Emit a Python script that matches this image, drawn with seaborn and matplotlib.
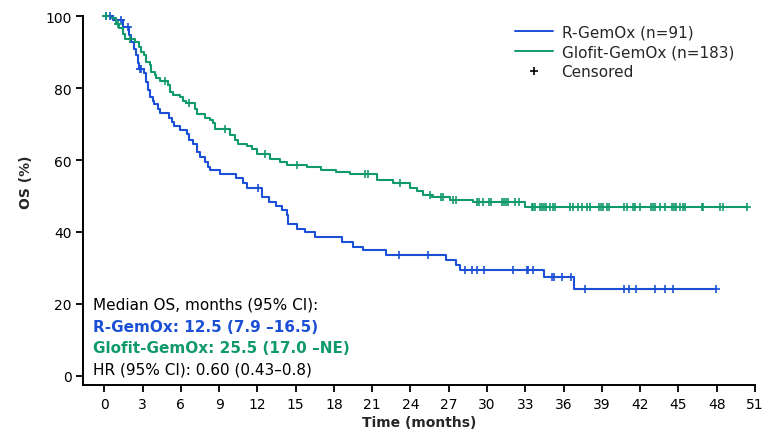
import numpy as np
import pandas as pd
import matplotlib
matplotlib.use("Agg")
import matplotlib.pyplot as plt
import seaborn as sns
from matplotlib.lines import Line2D

# ---------------- data ----------------
rgemox_time = [0, 0.7, 1.5, 1.95, 2.1, 2.35, 2.5, 2.62, 2.75, 3.15, 3.3, 3.42, 3.62, 3.85, 3.92,
               4.2, 4.35, 5.1, 5.35, 5.5, 5.9, 6.5, 6.65, 6.95, 7.3, 7.5, 7.9, 8.15, 8.28, 9.07,
               10.3, 10.9, 11.15, 12.4, 12.93, 13.5, 13.9, 14.3, 14.4, 15.08, 15.73, 16.5, 18.6,
               19.5, 20.3, 22.1, 26.8, 27.6, 27.85, 34.46, 36.83]
rgemox_os = [100, 98.9, 97.0, 94.8, 92.9, 91.0, 89.2, 87.0, 85.2, 84.1, 81.7, 79.6, 77.5, 76.3, 75.5,
             74.1, 73.0, 71.6, 70.7, 69.5, 68.4, 67.2, 65.5, 64.6, 62.3, 60.9, 59.5, 58.1, 57.2, 56.1,
             54.9, 53.5, 52.3, 49.8, 48.4, 47.2, 46.0, 44.6, 42.3, 40.9, 40.0, 38.6, 37.2,
             35.8, 34.9, 33.6, 32.3, 30.9, 29.5, 27.4, 24.2]
rgemox_censor = [0.15, 0.45, 1.33, 1.86, 2.8, 2.9, 12.07, 23.1, 25.4, 28.3, 28.8, 29.2, 29.8, 32.05,
                 33.1, 33.2, 33.6, 35.06, 35.24, 35.9, 36.6, 37.67, 40.73, 41.1, 41.67, 43.16,
                 43.95, 44.6, 47.94]

glofit_time = [0, 0.5, 0.95, 1.15, 1.45, 1.6, 2.45, 2.75, 2.9, 3.15, 3.3, 3.55, 3.68, 3.95, 4.08,
               4.34, 5.0, 5.12, 5.38, 5.9, 6.17, 6.4, 7.08, 7.3, 7.87, 8.28, 8.5, 8.68, 9.85, 10.24,
               10.5, 11.16, 11.55, 11.94, 13.0, 13.8, 14.3, 15.86, 17.0, 18.2, 19.25, 21.35, 22.6,
               23.96, 24.5, 25.0, 25.65, 27.1, 28.9, 32.97]
glofit_os = [100, 99.4, 97.8, 96.7, 95.2, 93.8, 92.9, 91.5, 90.1, 89.2, 87.3, 86.4, 84.5, 83.6, 82.7,
             82.0, 80.8, 78.9, 78.0, 77.5, 76.4, 75.8, 74.3, 72.9, 71.8, 71.1, 70.2, 68.7, 66.9, 65.5,
             64.6, 64.0, 63.2, 61.8, 60.4, 59.4, 58.7, 58.0, 57.3, 56.7, 56.0, 54.4, 53.5,
             52.3, 51.3, 50.4, 49.6, 48.8, 48.2, 47.0]
glofit_censor = [0.1, 1.1, 2.0, 4.75, 6.67, 9.46, 12.62, 15.08, 20.43, 20.7, 23.17, 25.55, 26.4,
                 26.55, 27.35, 27.55, 29.23, 29.39, 29.66, 30.17, 30.28, 31.14, 31.33, 31.48, 31.66,
                 32.19, 32.52, 33.49, 33.62, 33.75, 34.15, 34.28, 34.46, 34.62, 34.93, 35.19, 35.32,
                 36.5, 36.76, 37.15, 37.41, 37.8, 38.06, 38.77, 38.9, 39.1, 39.42, 39.55, 40.73,
                 40.94, 41.46, 41.59, 41.98, 42.82, 42.98, 43.16, 43.55, 43.95, 44.47, 44.65, 44.8,
                 45.11, 45.33, 45.5, 46.82, 46.9, 48.25, 48.46, 50.35]

x_ticks = list(range(0, 52, 3))
y_ticks = [0, 20, 40, 60, 80, 100]

legend_labels = ["R-GemOx (n=91)", "Glofit-GemOx (n=183)", "Censored"]
annot_lines = ["Median OS, months (95% CI):",
               "R-GemOx: 12.5 (7.9 \u201316.5)",
               "Glofit-GemOx: 25.5 (17.0 \u2013NE)",
               "HR (95% CI): 0.60 (0.43\u20130.8)"]

BLUE = "#1b4fd6"
GREEN = "#109a6c"

# ---------------- style ----------------
sns.set_style("ticks")
plt.rcParams["font.family"] = ["DejaVu Sans"]
plt.rcParams["font.size"] = 10

fig = plt.figure(figsize=(7.63, 4.31), dpi=100)
ax = fig.add_axes([83.3 / 763, 45 / 431, (755 - 83.3) / 763, (386 - 17.3) / 431])


def step_frame(times, surv, censor):
    end = max(max(times), max(censor))
    t = list(times) + [end]
    s = list(surv) + [surv[-1]]
    return pd.DataFrame({"time": t, "os": s})


def censor_values(times, surv, censor):
    idx = np.searchsorted(np.asarray(times), np.asarray(censor), side="right") - 1
    return np.asarray(surv)[idx]


for times, surv, cens, col in [(rgemox_time, rgemox_os, rgemox_censor, BLUE),
                               (glofit_time, glofit_os, glofit_censor, GREEN)]:
    df = step_frame(times, surv, cens)
    sns.lineplot(data=df, x="time", y="os", drawstyle="steps-post", estimator=None,
                 sort=False, color=col, linewidth=1.5, ax=ax, clip_on=False)
    cdf = pd.DataFrame({"time": cens, "os": censor_values(times, surv, cens)})
    sns.scatterplot(data=cdf, x="time", y="os", marker="+", s=40, linewidth=1.2,
                    color=col, ax=ax, clip_on=False, zorder=3)

ax.set_xlim(-1.64, 51)
ax.set_ylim(-2.6, 100)
ax.set_xticks(x_ticks)
ax.set_yticks(y_ticks)
sns.despine(ax=ax)
for sp in ["left", "bottom"]:
    ax.spines[sp].set_linewidth(1.4)
    ax.spines[sp].set_color("black")
ax.tick_params(axis="both", direction="out", length=5, width=1.3, colors="black",
               labelsize=10)
ax.tick_params(axis="x", pad=3.5)
ax.tick_params(axis="y", pad=3.5)

ax.set_xlabel("Time (months)", fontsize=10, fontweight="bold")
ax.set_ylabel("OS (%)", fontsize=10, fontweight="bold")
ax.xaxis.set_label_coords(0.5, (386 - 416) / 368.7)
ax.yaxis.set_label_coords((33 - 83.3) / 671.7, (386 - 182.5) / 368.7)

# legend
handles = [Line2D([], [], color=BLUE, lw=1.4),
           Line2D([], [], color=GREEN, lw=1.4),
           Line2D([], [], color="black", marker="+", ls="none", markersize=6, mew=1.2)]
ax.legend(handles, legend_labels, loc="upper left",
          bbox_to_anchor=(515 / 763, 1 - 25 / 431), bbox_transform=fig.transFigure,
          frameon=False, borderpad=0, borderaxespad=0, handlelength=2.5,
          handletextpad=0.55, labelspacing=0.33, fontsize=11)

# annotation
ys = [(386 - b) / 368.7 for b in (310, 331.7, 353.3, 375)]
colors = ["black", BLUE, GREEN, "black"]
weights = ["normal", "bold", "bold", "normal"]
for txt, yy, c, w in zip(annot_lines, ys, colors, weights):
    ax.text((93.3 - 83.3) / 671.7, yy, txt, transform=ax.transAxes, color=c,
            fontweight=w, fontsize=11, va="baseline", ha="left")

fig.savefig("out.png", dpi=100)
